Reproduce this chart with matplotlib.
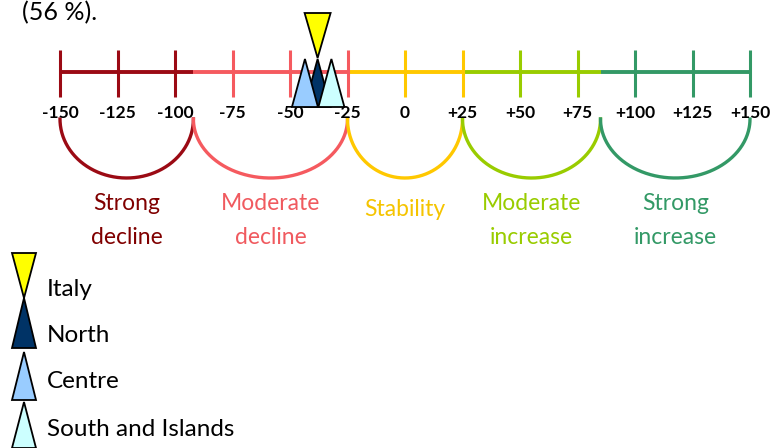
import numpy as np
import matplotlib
matplotlib.use("Agg")
import matplotlib.pyplot as plt
from matplotlib.patches import Polygon

# ---- data ----
tick_values = [-150, -125, -100, -75, -50, -25, 0, 25, 50, 75, 100, 125, 150]
tick_labels = ['-150', '-125', '-100', '-75', '-50', '-25', '0', '+25', '+50', '+75', '+100', '+125', '+150']
tick_colors = ['#9B0A14', '#9B0A14', '#9B0A14', '#F55A5F', '#F55A5F', '#F55A5F',
               '#FFC800', '#FFC800', '#99CC00', '#99CC00', '#339966', '#339966', '#339966']
segment_bounds = [-150, -92, -25, 25, 85, 150]
segment_labels = ['Strong\ndecline', 'Moderate\ndecline', 'Stability', 'Moderate\nincrease', 'Strong\nincrease']
segment_colors = ['#9B0A14', '#F55A5F', '#FFC800', '#99CC00', '#339966']
text_colors = ['#800000', '#F05A5F', '#F5C400', '#99CC00', '#339966']

regions = ['Italy', 'North', 'Centre', 'South and Islands']
region_values = [-38, -38, -43.5, -32]
region_colors = ['#FFFF00', '#003366', '#99CCFF', '#CCFFFF']
region_down = [True, False, False, False]

# ---- layout helpers (pixel layout -> value units) ----
PX0, PXU = 405.0, 2.3
def px2v(px):
    return (px - PX0) / PXU

FONT = ['Lato', 'DejaVu Sans']
plt.rcParams['font.family'] = FONT

fig = plt.figure(figsize=(7.84, 4.48), dpi=100)
ax = fig.add_axes([0, 0, 1, 1])
ax.set_xlim(px2v(0), px2v(784))
ax.set_ylim(448, 0)
ax.axis('off')

LINE_Y = 72
# main colored line
for i in range(len(segment_bounds) - 1):
    ax.plot([segment_bounds[i], segment_bounds[i + 1]], [LINE_Y, LINE_Y],
            color=segment_colors[i], lw=2.8, solid_capstyle='butt', zorder=2)
# ticks
for v, c, lab in zip(tick_values, tick_colors, tick_labels):
    ax.plot([v, v], [50, 97], color=c, lw=2.2, solid_capstyle='butt', zorder=2)
    ax.text(v, 113, lab, ha='center', va='center', fontsize=12.5, fontweight='bold',
            color='black', zorder=3)

# arcs and labels
t = np.linspace(0, np.pi, 200)
for i in range(len(segment_bounds) - 1):
    a, b = segment_bounds[i], segment_bounds[i + 1]
    c = (a + b) / 2
    r = (b - a) / 2
    ax.plot(c + r * np.cos(t), 119 + 59 * np.sin(t), color=segment_colors[i], lw=2.4, zorder=1)
    if '\n' in segment_labels[i]:
        l1, l2 = segment_labels[i].split('\n')
        ax.text(c, 203, l1, ha='center', va='center', fontsize=16.5, color=text_colors[i])
        ax.text(c, 238, l2, ha='center', va='center', fontsize=16.5, color=text_colors[i])
    else:
        ax.text(c, 209, segment_labels[i], ha='center', va='center', fontsize=16.5, color=text_colors[i])

# markers on the scale
HALF_W = 13 / PXU
for name, v, col, down in zip(regions, region_values, region_colors, region_down):
    if down:
        pts = [(v - HALF_W, 13), (v + HALF_W, 13), (v, 58)]
    else:
        pts = [(v - HALF_W, 107), (v + HALF_W, 107), (v, 59)]
    ax.add_patch(Polygon(pts, closed=True, facecolor=col, edgecolor='black', lw=1.3, zorder=5))

# legend (manual)
leg_y = [(253, 298), (298, 348), (352, 400), (402, 448)]
lx = px2v(24)
lhw = 12 / PXU
for name, col, down, (y0, y1) in zip(regions, region_colors, region_down, leg_y):
    if down:
        pts = [(lx - lhw, y0), (lx + lhw, y0), (lx, y1)]
    else:
        pts = [(lx - lhw, y1), (lx + lhw, y1), (lx, y0)]
    ax.add_patch(Polygon(pts, closed=True, facecolor=col, edgecolor='black', lw=1.3, zorder=5))
ax.text(px2v(47), 289, 'Italy', ha='left', va='center', fontsize=17.5, color='black')
ax.text(px2v(47), 335, 'North', ha='left', va='center', fontsize=17.5, color='black')
ax.text(px2v(47), 382, 'Centre', ha='left', va='center', fontsize=17.5, color='black')
ax.text(px2v(47), 430, 'South and Islands', ha='left', va='center', fontsize=17.5, color='black')

# title fragment
ax.text(px2v(22), 1, '(56 %).', ha='left', va='top', fontsize=18, color='black')

fig.savefig('out.png', dpi=100)
